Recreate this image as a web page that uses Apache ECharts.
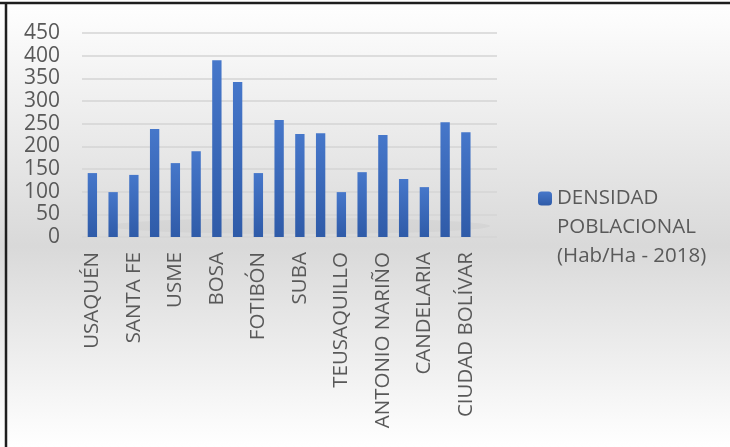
<!DOCTYPE html>
<html>
<head>
<meta charset="utf-8">
<script src="https://cdn.jsdelivr.net/npm/echarts@6/dist/echarts.min.js"></script>
<style>
  html, body { margin: 0; padding: 0; }
  #chart { width: 730px; height: 447px; }
</style>
</head>
<body>
<div id="chart"></div>
<script>
// localidades de Bogotá
const localidades = [
    'USAQUÉN', 'CHAPINERO', 'SANTA FE', 'SAN CRISTÓBAL', 'USME', 'TUNJUELITO',
    'BOSA', 'KENNEDY', 'FOTIBÓN', 'ENGATIVÁ', 'SUBA', 'BARRIOS UNIDOS',
    'TEUSAQUILLO', 'LOS MÁRTIRES', 'ANTONIO NARIÑO', 'PUENTE ARANDA',
    'CANDELARIA', 'RAFAEL URIBE URIBE', 'CIUDAD BOLÍVAR', 'SUMAPAZ'
];
const densidad = [
    141, 99, 137, 238, 163, 189,
    390, 342, 141, 258, 227, 229,
    99, 143, 225, 128,
    110, 253, 231, 0
];
const serieNombre = 'DENSIDAD POBLACIONAL (Hab/Ha - 2018)';
const yTicks = { min: 0, max: 450, step: 50 };

const chart = echarts.init(document.getElementById('chart'));
const option = {
    backgroundColor: {
        type: 'linear', x: 0, y: 0, x2: 0, y2: 1,
        colorStops: [
            { offset: 0, color: '#ffffff' },
            { offset: 0.55, color: '#d9d9d9' },
            { offset: 1, color: '#ffffff' }
        ]
    },
    textStyle: { fontFamily: 'Open Sans' },
    animation: false,
    grid: { left: 82, right: 233, top: 33, bottom: 210 },
    legend: {
        left: 538,
        top: 126,
        padding: 0,
        orient: 'vertical',
        itemWidth: 14,
        itemHeight: 14,
        itemGap: 5,
        // two blank lines keep the square beside the first line
        formatter: () => '\n\nDENSIDAD\nPOBLACIONAL\n(Hab/Ha - 2018)',
        textStyle: {
            color: '#595959',
            fontSize: 20.5,
            lineHeight: 29
        }
    },
    xAxis: {
        type: 'category',
        data: localidades,
        axisLine: { show: false },
        axisTick: { show: false },
        axisLabel: {
            interval: 1,
            rotate: 90,
            margin: 15,
            color: '#595959',
            fontSize: 20.5
        }
    },
    yAxis: {
        type: 'value',
        min: yTicks.min,
        max: yTicks.max,
        interval: yTicks.step,
        axisLine: { show: false },
        axisTick: { show: false },
        axisLabel: { color: '#595959', fontSize: 21, margin: 22 },
        splitLine: { lineStyle: { color: '#d4d4d4', width: 1.5 } }
    },
    series: [{
        name: serieNombre,
        type: 'bar',
        data: densidad,
        barCategoryGap: '55%',
        itemStyle: {
            color: {
                type: 'linear', x: 0, y: 0, x2: 0, y2: 1,
                colorStops: [
                    { offset: 0, color: '#4677ca' },
                    { offset: 1, color: '#2f5ba8' }
                ]
            }
        }
    }],
    graphic: [
        {
            type: 'ellipse',
            z: -1,
            shape: { cx: 300, cy: 226, rx: 190, ry: 8 },
            style: { fill: 'rgba(0,0,0,0.03)', shadowBlur: 30, shadowColor: 'rgba(0,0,0,0.10)' },
            silent: true
        },
        {
            type: 'line',
            shape: { x1: 0, y1: 3, x2: 730, y2: 3 },
            style: { stroke: '#1e1e1e', lineWidth: 2.5 }
        },
        {
            type: 'line',
            shape: { x1: 6, y1: 3, x2: 6, y2: 447 },
            style: { stroke: '#1e1e1e', lineWidth: 2.5 }
        }
    ]
};
chart.setOption(option);
</script>
</body>
</html>
